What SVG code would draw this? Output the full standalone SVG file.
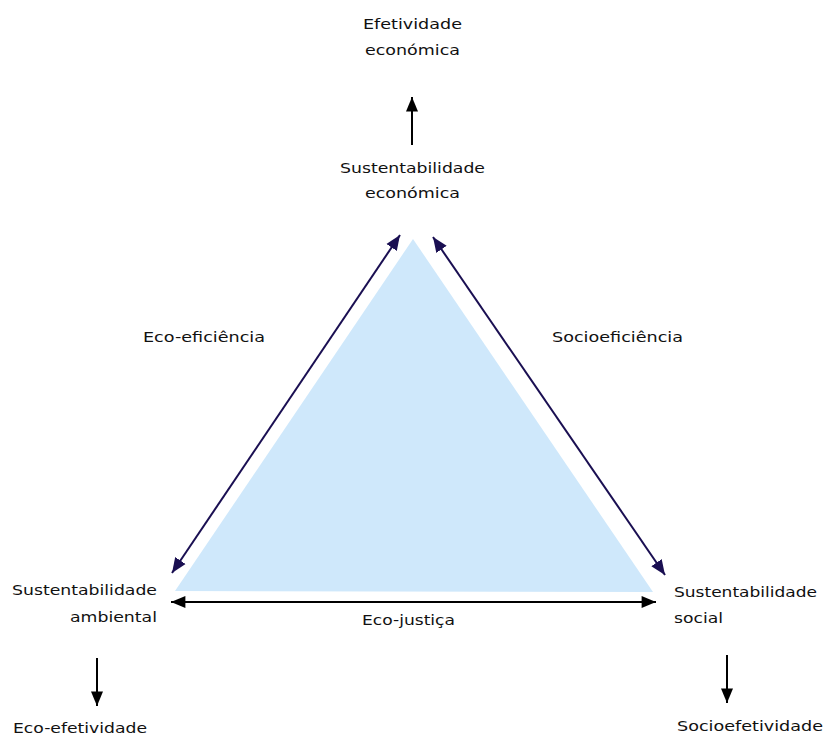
<svg xmlns="http://www.w3.org/2000/svg" width="825" height="736" viewBox="0 0 825 736">
<defs>
<marker id="ah-navy" viewBox="0 0 12 10" refX="12" refY="5" markerWidth="15" markerHeight="13" markerUnits="userSpaceOnUse" orient="auto-start-reverse"><path d="M0,0 L12,5 L0,10 Z" fill="#1a0f52"/></marker>
<marker id="ah-black" viewBox="0 0 12 10" refX="12" refY="5" markerWidth="15" markerHeight="12" markerUnits="userSpaceOnUse" orient="auto-start-reverse"><path d="M0,0 L12,5 L0,10 Z" fill="#000"/></marker>
</defs>
<style>
text{font-family:"DejaVu Sans","Liberation Sans",sans-serif;font-size:14px;fill:#111}
.navy{stroke:#1a0f52;stroke-width:2;fill:none}
.blk{stroke:#000;stroke-width:2;fill:none}
</style>
<rect width="825" height="736" fill="#fff"/>
<g id="triangle"><polygon points="413,239 175,591 653,592" fill="#cfe8fb"/></g>
<g id="connectors">
<line class="navy" x1="172" y1="573" x2="400" y2="235" marker-start="url(#ah-navy)" marker-end="url(#ah-navy)"/>
<line class="navy" x1="665" y1="575" x2="433" y2="237" marker-start="url(#ah-navy)" marker-end="url(#ah-navy)"/>
<line class="blk" x1="171" y1="602" x2="656" y2="602" marker-start="url(#ah-black)" marker-end="url(#ah-black)"/>
<line class="blk" x1="412" y1="145" x2="412" y2="97" marker-end="url(#ah-black)"/>
<line class="blk" x1="97" y1="658" x2="97" y2="706" marker-end="url(#ah-black)"/>
<line class="blk" x1="727" y1="655" x2="727" y2="703" marker-end="url(#ah-black)"/>
</g>
<g id="efetividade-economica">
<text x="363" y="29" textLength="99" lengthAdjust="spacingAndGlyphs">Efetividade</text>
<text x="365" y="55" textLength="95" lengthAdjust="spacingAndGlyphs">económica</text>
</g>
<g id="sustentabilidade-economica">
<text x="340" y="173" textLength="145" lengthAdjust="spacingAndGlyphs">Sustentabilidade</text>
<text x="365" y="198" textLength="95" lengthAdjust="spacingAndGlyphs">económica</text>
</g>
<g id="eco-eficiencia"><text x="143" y="342" textLength="122" lengthAdjust="spacingAndGlyphs">Eco-eficiência</text></g>
<g id="socioeficiencia"><text x="552" y="342" textLength="131" lengthAdjust="spacingAndGlyphs">Socioeficiência</text></g>
<g id="sustentabilidade-ambiental">
<text x="12" y="595" textLength="145" lengthAdjust="spacingAndGlyphs">Sustentabilidade</text>
<text x="70" y="622" textLength="87" lengthAdjust="spacingAndGlyphs">ambiental</text>
</g>
<g id="sustentabilidade-social">
<text x="674" y="597" textLength="143" lengthAdjust="spacingAndGlyphs">Sustentabilidade</text>
<text x="674" y="623" textLength="49" lengthAdjust="spacingAndGlyphs">social</text>
</g>
<g id="eco-justica"><text x="362" y="625" textLength="93" lengthAdjust="spacingAndGlyphs">Eco-justiça</text></g>
<g id="eco-efetividade"><text x="13" y="733" textLength="134" lengthAdjust="spacingAndGlyphs">Eco-efetividade</text></g>
<g id="socioefetividade"><text x="677" y="731" textLength="146" lengthAdjust="spacingAndGlyphs">Socioefetividade</text></g>
</svg>
